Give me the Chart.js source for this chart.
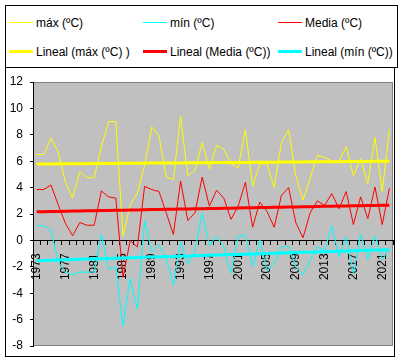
<!DOCTYPE html>
<html>
<head>
<meta charset="utf-8">
<script src="https://cdn.jsdelivr.net/npm/chart.js@4.4.1/dist/chart.umd.min.js"></script>
<style>
  html, body { margin:0; padding:0; background:#fff; }
  #wrap { position:relative; width:399px; height:362px; }
  #frame { position:absolute; left:5px; top:5px; width:390px; height:352px; box-sizing:border-box; border:1px solid #000; pointer-events:none; }
  #legend { position:absolute; left:5px; top:5px; width:393px; height:63px; box-sizing:border-box; border:1px solid #000; background:#fff;
    padding:2px 0 0 3px; display:grid; grid-template-columns:134px 135px auto; grid-auto-rows:29px;
    font:12px Arial, "Liberation Sans", sans-serif; color:#000; }
  .item { display:flex; align-items:center; white-space:nowrap; }
  .swatch { display:inline-block; width:24px; margin-right:3px; }
</style>
</head>
<body>
<div id="wrap">
  <canvas id="tempChart" width="399" height="362"></canvas>
  <div id="frame"></div>
  <div id="legend"></div>
</div>
<script>
// yearly temperature data
var years = ['1973','1974','1975','1976','1977','1978','1979','1980','1981','1982',
  '1983','1984','1985','1986','1987','1988','1989','1990','1991','1992',
  '1993','1994','1995','1996','1997','1998','1999','2000','2001','2002',
  '2003','2004','2005','2006','2007','2008','2009','2010','2011','2012',
  '2013','2014','2015','2016','2017','2018','2019','2020','2021','2022'];
var tickYears = ['1973','1977','1981','1985','1989','1993','1997','2001','2005','2009','2013','2017','2021'];
var yTicks = [-8, -6, -4, -2, 0, 2, 4, 6, 8, 10, 12];

var maxTemp = [6.5, 6.5, 7.75, 6.7, 4.4, 3.2, 5.2, 4.75, 4.75, 7.1,
  9.0, 9.0, 0.3, 2.7, 3.6, 5.7, 8.6, 7.9, 4.8, 4.6,
  9.4, 4.9, 5.3, 7.4, 5.4, 7.2, 6.9, 5.8, 5.5, 8.4,
  4.1, 5.8, 5.8, 4.0, 7.4, 8.4, 4.9, 3.05, 4.7, 6.45,
  6.3, 6.0, 6.0, 7.1, 4.9, 6.2, 4.3, 7.8, 3.7, 8.4];
var minTemp = [1.1, 1.1, 0.8, -1.6, -2.4, -2.6, -2.4, -2.4, -2.4, 0.45,
  -2.2, -2.0, -6.5, -2.9, -5.2, 1.5, -0.9, -0.3, -1.4, -3.4,
  -0.1, -1.8, -0.8, 2.1, -0.4, 0.33, -0.5, -2.5, 0.33, 0.4,
  -2.0, 0.05, -2.3, -1.7, -0.5, -0.43, -2.0, -2.6, -1.5, -0.5,
  -0.75, 1.1, -1.25, 0.25, -2.5, 0.45, -1.44, 0.35, -1.45, -0.68];
var meanTemp = [3.85, 3.85, 4.2, 2.7, 1.3, 0.35, 1.35, 1.15, 1.15, 3.75,
  3.3, 3.2, -2.8, 0.0, -0.5, 4.1, 3.85, 3.7, 2.1, 0.45,
  4.5, 1.5, 2.1, 4.8, 2.6, 3.8, 3.2, 1.6, 2.6, 4.4,
  1.0, 2.9, 2.2, 1.0, 3.4, 4.0, 1.35, 0.2, 2.1, 3.0,
  2.65, 3.55, 2.4, 3.7, 1.2, 3.3, 1.65, 4.05, 1.2, 3.95];

// least squares fit, like the spreadsheet "Lineal" trendline
function linearTrend(values){
  var n = values.length, sx = 0, sy = 0, sxy = 0, sxx = 0;
  values.forEach(function(v, i){ sx += i; sy += v; sxy += i * v; sxx += i * i; });
  var slope = (n * sxy - sx * sy) / (n * sxx - sx * sx);
  var icept = (sy - slope * sx) / n;
  return values.map(function(v, i){ return icept + slope * i; });
}

// gray plot area like the original
var plotBackground = {
  id: 'plotBackground',
  beforeDraw: function(chart){
    var ctx = chart.ctx, a = chart.chartArea;
    ctx.save();
    ctx.fillStyle = '#c0c0c0';
    ctx.fillRect(a.left, a.top, a.right - a.left, a.bottom - a.top);
    ctx.strokeStyle = '#808080';
    ctx.lineWidth = 1;
    ctx.strokeRect(a.left + 0.5, a.top + 0.5, a.right - a.left - 1, a.bottom - a.top - 1);
    ctx.restore();
  }
};

Chart.defaults.font.family = 'Arial, "Liberation Sans", sans-serif';
Chart.defaults.font.size = 12;
Chart.defaults.color = '#000';

var chart = new Chart(document.getElementById('tempChart').getContext('2d'), {
  type: 'line',
  data: {
    labels: years,
    datasets: [
      { label: 'máx (ºC)', data: maxTemp, borderColor: '#ffff00', borderWidth: 1, order: 1 },
      { label: 'mín (ºC)', data: minTemp, borderColor: '#00ffff', borderWidth: 1, order: 1 },
      { label: 'Media (ºC)', data: meanTemp, borderColor: '#ff0000', borderWidth: 1, order: 1 },
      { label: 'Lineal (máx (ºC) )', data: linearTrend(maxTemp), borderColor: '#ffff00', borderWidth: 3, order: 0 },
      { label: 'Lineal (Media (ºC))', data: linearTrend(meanTemp), borderColor: '#ff0000', borderWidth: 3, order: 0 },
      { label: 'Lineal (mín (ºC))', data: linearTrend(minTemp), borderColor: '#00ffff', borderWidth: 3, order: 0 }
    ]
  },
  options: {
    responsive: false,
    animation: false,
    layout: { padding: { top: 82, right: 6, bottom: 16, left: 0 } },
    plugins: { legend: { display: false }, tooltip: { enabled: false } },
    elements: { point: { radius: 0 }, line: { tension: 0, fill: false } },
    scales: {
      x: {
        type: 'category',
        position: { y: 0 },
        offset: true,
        grid: { display: true, drawOnChartArea: false, drawTicks: true, tickLength: 4, color: '#000', offset: true },
        border: { display: true, color: '#000', width: 1 },
        ticks: {
          autoSkip: false, minRotation: 90, maxRotation: 90, padding: 9,
          callback: function(value){
            var lbl = this.getLabelForValue(value);
            return tickYears.indexOf(lbl) >= 0 ? lbl : '';
          }
        },
        afterFit: function(scale){ scale.paddingLeft = 0; scale.paddingRight = 0; }
      },
      y: {
        min: yTicks[0],
        max: yTicks[yTicks.length - 1],
        ticks: { stepSize: yTicks[1] - yTicks[0], padding: 7 },
        grid: { drawOnChartArea: false, drawTicks: true, tickLength: 3, color: '#000' },
        border: { color: '#000' },
        afterFit: function(scale){ scale.width = 33; }
      }
    }
  },
  plugins: [plotBackground]
});

// html legend in the same 3x2 grid as the original
var legendEl = document.getElementById('legend');
chart.data.datasets.forEach(function(ds){
  var item = document.createElement('div');
  item.className = 'item';
  var sw = document.createElement('span');
  sw.className = 'swatch';
  sw.style.height = ds.borderWidth + 'px';
  sw.style.background = ds.borderColor;
  var tx = document.createElement('span');
  tx.textContent = ds.label;
  item.appendChild(sw);
  item.appendChild(tx);
  legendEl.appendChild(item);
});
</script>
</body>
</html>
